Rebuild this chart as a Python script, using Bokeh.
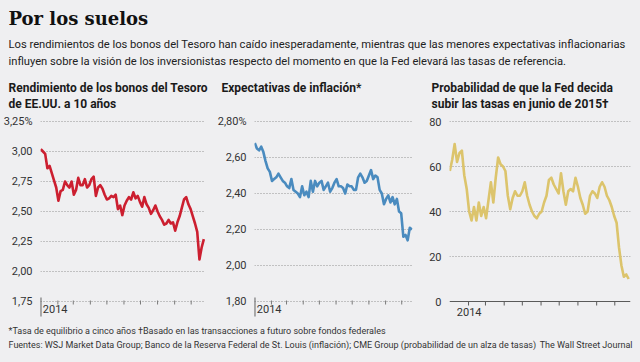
import pandas as pd
from bokeh.plotting import figure
from bokeh.layouts import column, row
from bokeh.models import Range1d, FixedTicker, ColumnDataSource, Span
from bokeh.core.properties import value
from bokeh.embed import file_html
from bokeh.resources import INLINE

# ---------------- data ----------------
START = "2014-01-01"
STEP = "4D"

YIELD_10Y = [
    3.02, 3.00, 2.98, 2.86, 2.88, 2.82, 2.76, 2.70, 2.59, 2.67,
    2.68, 2.75, 2.72, 2.70, 2.75, 2.64, 2.68, 2.78, 2.72, 2.72,
    2.77, 2.70, 2.72, 2.77, 2.79, 2.63, 2.70, 2.72, 2.69, 2.64,
    2.60, 2.61, 2.63, 2.62, 2.64, 2.52, 2.55, 2.47, 2.55, 2.59,
    2.62, 2.60, 2.66, 2.61, 2.63, 2.58, 2.54, 2.62, 2.56, 2.53,
    2.48, 2.51, 2.55, 2.50, 2.46, 2.43, 2.39, 2.40, 2.43, 2.40,
    2.41, 2.34, 2.41, 2.46, 2.53, 2.60, 2.62, 2.56, 2.52, 2.46,
    2.40, 2.33, 2.10, 2.20, 2.27,
]

INFLATION_EXP = [
    2.68, 2.65, 2.64, 2.66, 2.63, 2.58, 2.54, 2.52, 2.47, 2.48,
    2.49, 2.51, 2.49, 2.47, 2.46, 2.44, 2.43, 2.48, 2.42, 2.41,
    2.40, 2.38, 2.44, 2.39, 2.41, 2.38, 2.47, 2.41, 2.47, 2.44,
    2.46, 2.47, 2.42, 2.44, 2.46, 2.41, 2.43, 2.46, 2.48, 2.44,
    2.44, 2.43, 2.40, 2.45, 2.44, 2.44, 2.42, 2.42, 2.49, 2.51,
    2.49, 2.46, 2.47, 2.50, 2.53, 2.48, 2.50, 2.49, 2.42, 2.40,
    2.34, 2.37, 2.39, 2.35, 2.38, 2.34, 2.37, 2.30, 2.29, 2.16,
    2.17, 2.14, 2.21, 2.20,
]

HIKE_PROB = [
    58, 63, 70, 62, 66, 67, 56, 50, 40, 36,
    42, 36, 44, 38, 42, 37, 45, 53, 44, 55,
    64, 61, 60, 58, 47, 41, 46, 49, 47, 47,
    49, 53, 47, 43, 40, 38, 37, 39, 40, 44,
    47, 54, 55, 52, 50, 48, 57, 49, 43, 49,
    50, 49, 55, 51, 46, 43, 39, 40, 47, 49,
    48, 46, 51, 53, 51, 47, 45, 42, 38, 35,
    24, 16, 11, 12, 10,
]

YEAR_TICK = "2014-01-01"
YEAR_LABEL = "2014"
MONTH_TICKS = ["2014-02-01", "2014-03-01", "2014-04-01", "2014-05-01", "2014-06-01",
               "2014-07-01", "2014-08-01", "2014-09-01", "2014-10-01"]

YIELD_TICKS = [1.75, 2.00, 2.25, 2.50, 2.75, 3.00, 3.25]
YIELD_LABELS = ["1,75", "2,00", "2,25", "2,50", "2,75", "3,00", "3,25%"]
INFL_TICKS = [1.80, 2.00, 2.20, 2.40, 2.60, 2.80]
INFL_LABELS = ["1,80", "2,00", "2,20", "2,40", "2,60", "2,80%"]
PROB_TICKS = [0, 20, 40, 60, 80]
PROB_LABELS = ["0", "20", "40", "60", "80"]

TITLE = "Por los suelos"
SUBTITLE = ["Los rendimientos de los bonos del Tesoro han caído inesperadamente, mientras que las menores expectativas inflacionarias",
            "influyen sobre la visión de los inversionistas respecto del momento en que la Fed elevará las tasas de referencia."]
CHART_TITLES = [["Rendimiento de los bonos del Tesoro", "de EE.UU. a 10 años"],
                ["Expectativas de inflación*"],
                ["Probabilidad de que la Fed decida", "subir las tasas en junio de 2015†"]]
NOTES = "*Tasa de equilibrio a cinco años  †Basado en las transacciones a futuro sobre fondos federales"
SOURCES = "Fuentes: WSJ Market Data Group; Banco de la Reserva Federal de St. Louis (inflación); CME Group (probabilidad de un alza de tasas)"
CREDIT = "The Wall Street Journal"

# ---------------- style ----------------
BG = "#efeff1"
SANS = "Roboto"
GRID = "#929292"


def make_chart(vals, color, yticks, ylabels, px_per_unit, x_days, width, bl, br,
               solid_base=False, grid_ticks=None, label_dx=3):
    dates = pd.date_range(start=START, periods=len(vals), freq=STEP)
    src = ColumnDataSource(dict(date=dates, v=vals))
    jan = pd.Timestamp(YEAR_TICK)
    base, top = yticks[0], yticks[-1]
    u = 1.0 / px_per_unit          # one screen pixel in data units
    p = figure(width=width, height=210, x_axis_type="datetime",
               x_range=Range1d(jan - pd.Timedelta(hours=12), jan + pd.Timedelta(days=x_days)),
               y_range=Range1d(base - 19 * u, top + 2 * u),
               x_axis_location=None, toolbar_location=None, output_backend="svg",
               min_border_left=bl, min_border_right=br, min_border_top=7, min_border_bottom=2,
               background_fill_color=BG, border_fill_color=BG, outline_line_color=None,
               styles={"background-color": BG})
    p.line(x="date", y="v", source=src, line_color=color, line_width=2.6, line_join="round")

    # y axis
    ya = p.yaxis[0]
    ya.ticker = FixedTicker(ticks=yticks)
    ya.major_label_overrides = {t: l for t, l in zip(yticks, ylabels)}
    ya.axis_line_color = None
    ya.major_tick_line_color = None
    ya.minor_tick_line_color = None
    ya.major_label_standoff = 2
    ya.major_label_text_font = SANS
    ya.major_label_text_font_size = "11px"
    ya.major_label_text_color = "#333333"

    p.xgrid.visible = False
    p.ygrid.ticker = FixedTicker(ticks=grid_ticks if grid_ticks is not None else yticks)
    p.ygrid.grid_line_color = GRID
    p.ygrid.grid_line_dash = "1 2"
    p.ygrid.grid_line_width = 1

    # time axis: month ticks, year marker and label
    months = pd.to_datetime(MONTH_TICKS)
    if solid_base:
        p.add_layout(Span(location=base, dimension="width", line_color="#5a5a5a", line_width=1.2))
        p.segment(x0=months, x1=months, y0=[base] * len(months), y1=[base - 4 * u] * len(months),
                  line_color="#5a5a5a", line_width=1)
        label_y = base - 6 * u
    else:
        p.segment(x0=months, x1=months, y0=[base + 1 * u] * len(months),
                  y1=[base - 3 * u] * len(months), line_color="#7a7a7a", line_width=1)
        p.segment(x0=[jan], x1=[jan], y0=[base + 4 * u], y1=[base - 15 * u],
                  line_color="#4a4a4a", line_width=1.3)
        label_y = base - 3 * u
    p.text(x=[jan], y=[label_y], text=[YEAR_LABEL], x_offset=label_dx,
           text_font=value(SANS), text_font_size="11px", text_baseline="top",
           text_align="left", text_color="#333333")
    return p


c1 = make_chart(YIELD_10Y, "#cc1f30", YIELD_TICKS, YIELD_LABELS, 120, 299, 214, 34, 9, label_dx=2)
c2 = make_chart(INFLATION_EXP, "#4a8bbf", INFL_TICKS, INFL_LABELS, 180, 293, 212, 31, 14, label_dx=2)
c3 = make_chart(HIKE_PROB, "#dcc46c", PROB_TICKS, PROB_LABELS, 2.25, 299, 214, 23, 10,
                solid_base=True, grid_ticks=PROB_TICKS[1:], label_dx=7)


def text_fig(h):
    f = figure(width=640, height=h, x_range=Range1d(0, 640), y_range=Range1d(h, 0),
               toolbar_location=None, output_backend="svg", min_border=0,
               x_axis_location=None, y_axis_location=None,
               background_fill_color=BG, border_fill_color=BG, outline_line_color=None,
               styles={"background-color": BG})
    f.grid.visible = False
    return f


hdr = text_fig(112)
hdr.text(x=[8], y=[18], text=[TITLE], text_font=value("DejaVu Serif"), text_font_style="bold",
         text_font_size="18px", text_baseline="middle", text_color="#111111")
hdr.text(x=[8, 8], y=[44, 61], text=SUBTITLE, text_font=value(SANS), text_font_size="11.2px",
         text_baseline="middle", text_color="#222222")
for x0, lines in zip([8, 221, 431], CHART_TITLES):
    hdr.text(x=[x0] * len(lines), y=[87, 103.5][:len(lines)], text=lines, text_font=value(SANS),
             text_font_style="bold", text_font_size="12px", text_baseline="middle",
             text_color="#1a1a1a")

ftr = text_fig(40)
ftr.text(x=[8, 8], y=[8, 22], text=[NOTES, SOURCES], text_font=value(SANS),
         text_font_size="9px", text_baseline="middle", text_color="#333333")
ftr.text(x=[632], y=[22], text=[CREDIT], text_font=value(SANS), text_font_size="9px",
         text_baseline="middle", text_align="right", text_color="#333333")

layout = column(hdr, row(c1, c2, c3, spacing=0, styles={"background-color": BG}), ftr,
                spacing=0, styles={"background-color": BG})
open("out.html", "w").write(file_html(layout, INLINE))
